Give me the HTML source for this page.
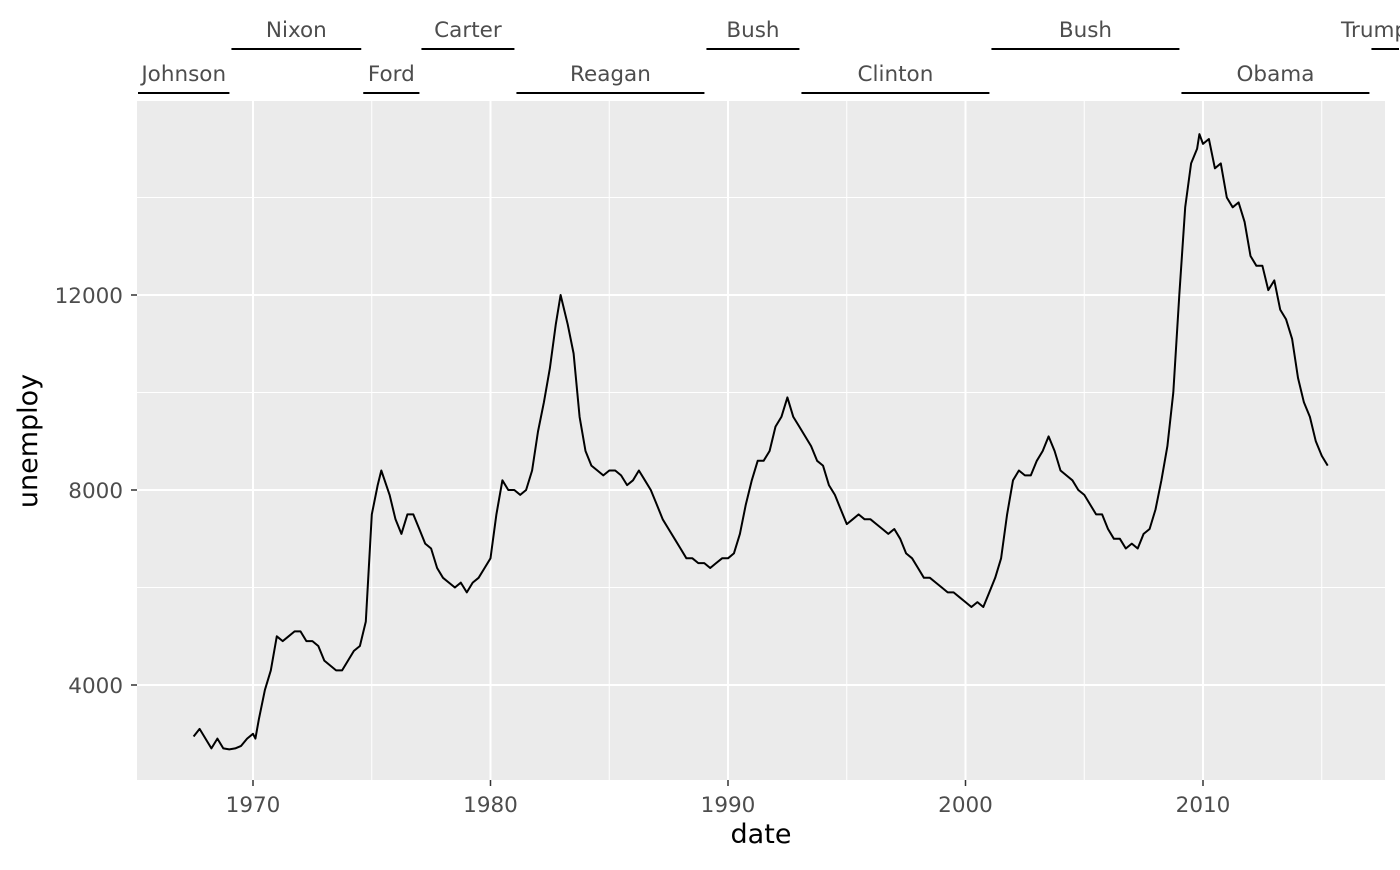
<!DOCTYPE html>
<html><head><meta charset="utf-8"><style>
body{margin:0;background:#fff;}
svg text{font-family:"DejaVu Sans","Liberation Sans",sans-serif;}
</style></head><body>
<svg id="chart" width="1400" height="865" xmlns="http://www.w3.org/2000/svg">
<rect x="137" y="101" width="1248" height="679" fill="#ebebeb"/>
<g id="grid"></g><g id="series"></g><g id="axes"></g><g id="pres"></g>
<text x="761" y="843" font-size="27" text-anchor="middle" fill="#000">date</text>
<text x="0" y="0" font-size="27" text-anchor="middle" fill="#000" transform="translate(37,441) rotate(-90)">unemploy</text>
</svg>
<script>
const dates=[1967.5,1967.75,1968.0,1968.25,1968.5,1968.75,1969.0,1969.25,1969.5,1969.75,1970.0,1970.1,1970.25,1970.5,1970.75,1971.0,1971.25,1971.5,1971.75,1972.0,1972.25,1972.5,1972.75,1973.0,1973.25,1973.5,1973.75,1974.0,1974.25,1974.5,1974.75,1975.0,1975.25,1975.4,1975.75,1976.0,1976.25,1976.5,1976.75,1977.0,1977.25,1977.5,1977.75,1978.0,1978.25,1978.5,1978.75,1979.0,1979.25,1979.5,1979.75,1980.0,1980.25,1980.5,1980.75,1981.0,1981.25,1981.5,1981.75,1982.0,1982.25,1982.5,1982.75,1982.95,1983.25,1983.5,1983.75,1984.0,1984.25,1984.5,1984.75,1985.0,1985.25,1985.5,1985.75,1986.0,1986.25,1986.5,1986.75,1987.0,1987.25,1987.5,1987.75,1988.0,1988.25,1988.5,1988.75,1989.0,1989.25,1989.5,1989.75,1990.0,1990.25,1990.5,1990.75,1991.0,1991.25,1991.5,1991.75,1992.0,1992.25,1992.5,1992.75,1993.0,1993.25,1993.5,1993.75,1994.0,1994.25,1994.5,1994.75,1995.0,1995.25,1995.5,1995.75,1996.0,1996.25,1996.5,1996.75,1997.0,1997.25,1997.5,1997.75,1998.0,1998.25,1998.5,1998.75,1999.0,1999.25,1999.5,1999.75,2000.0,2000.25,2000.5,2000.75,2001.0,2001.25,2001.5,2001.75,2002.0,2002.25,2002.5,2002.75,2003.0,2003.25,2003.5,2003.75,2004.0,2004.25,2004.5,2004.75,2005.0,2005.25,2005.5,2005.75,2006.0,2006.25,2006.5,2006.75,2007.0,2007.25,2007.5,2007.75,2008.0,2008.25,2008.5,2008.75,2009.0,2009.25,2009.5,2009.75,2009.85,2010.0,2010.25,2010.5,2010.75,2011.0,2011.25,2011.5,2011.75,2012.0,2012.25,2012.5,2012.75,2013.0,2013.25,2013.5,2013.75,2014.0,2014.25,2014.5,2014.75,2015.0,2015.25];
const unemploy=[2944,3100,2900,2700,2900,2700,2680,2700,2750,2900,3000,2900,3300,3900,4300,5000,4900,5000,5100,5100,4900,4900,4800,4500,4400,4300,4300,4500,4700,4800,5300,7500,8100,8400,7900,7400,7100,7500,7500,7200,6900,6800,6400,6200,6100,6000,6100,5900,6100,6200,6400,6600,7500,8200,8000,8000,7900,8000,8400,9200,9800,10500,11400,12000,11400,10800,9500,8800,8500,8400,8300,8400,8400,8300,8100,8200,8400,8200,8000,7700,7400,7200,7000,6800,6600,6600,6500,6500,6400,6500,6600,6600,6700,7100,7700,8200,8600,8600,8800,9300,9500,9900,9500,9300,9100,8900,8600,8500,8100,7900,7600,7300,7400,7500,7400,7400,7300,7200,7100,7200,7000,6700,6600,6400,6200,6200,6100,6000,5900,5900,5800,5700,5600,5700,5600,5900,6200,6600,7500,8200,8400,8300,8300,8600,8800,9100,8800,8400,8300,8200,8000,7900,7700,7500,7500,7200,7000,7000,6800,6900,6800,7100,7200,7600,8200,8900,10000,12000,13800,14700,15000,15300,15100,15200,14600,14700,14000,13800,13900,13500,12800,12600,12600,12100,12300,11700,11500,11100,10300,9800,9500,9000,8700,8500];
const xTicks=[1970,1980,1990,2000,2010];
const yTicks=[4000,8000,12000];
const presNames=["Johnson","Nixon","Ford","Carter","Reagan","Bush","Clinton","Bush","Obama","Trump"];
const presStart=[1963.9,1969.05,1974.6,1977.05,1981.05,1989.05,1993.05,2001.05,2009.05,2017.05];
const presEnd=[1969.05,1974.6,1977.05,1981.05,1989.05,1993.05,2001.05,2009.05,2017.05,2021.05];
const NS="http://www.w3.org/2000/svg";
const X0=137,X1=1385,Y0=101,Y1=780;
const xs=y=>253+(y-1970)*23.75;
const ys=v=>490-(v-8000)*0.04875;
function mk(t,a,p){const e=document.createElementNS(NS,t);for(const k in a)e.setAttribute(k,a[k]);p.appendChild(e);return e;}
const grid=document.getElementById('grid'),axes=document.getElementById('axes');
for(let i=0;i<xTicks.length;i++){const x=xs(xTicks[i]-5);
 const m=mk('line',{x1:x,x2:x,y1:Y0,y2:Y1,stroke:'#fff','stroke-width':1},grid);
 }
{const x=xs(xTicks[xTicks.length-1]+5);const m=mk('line',{x1:x,x2:x,y1:Y0,y2:Y1,stroke:'#fff','stroke-width':1},grid);
 }
for(let i=0;i<yTicks.length;i++){[yTicks[i]-2000,yTicks[i]+2000].forEach(v=>{const y=ys(v);
 const m=mk('line',{x1:X0,x2:X1,y1:y,y2:y,stroke:'#fff','stroke-width':1},grid);
 });}
xTicks.forEach(t=>{const x=xs(t);
 const g=mk('line',{x1:x,x2:x,y1:Y0,y2:Y1,stroke:'#fff','stroke-width':2},grid);
 
 const k=mk('line',{x1:x,x2:x,y1:Y1,y2:Y1+6,stroke:'#333','stroke-width':1.5},axes);
 
 const l=mk('text',{x:x,y:Y1+32,'font-size':21.5,'text-anchor':'middle',fill:'#4d4d4d'},axes);l.textContent=t;
 });
yTicks.forEach(t=>{const y=ys(t);
 const g=mk('line',{x1:X0,x2:X1,y1:y,y2:y,stroke:'#fff','stroke-width':2},grid);
 
 const k=mk('line',{x1:X0-6,x2:X0,y1:y,y2:y,stroke:'#333','stroke-width':1.5},axes);
 
 const l=mk('text',{x:X0-14,y:y+8,'font-size':21.5,'text-anchor':'end',fill:'#4d4d4d'},axes);l.textContent=t;
 });
const pts=dates.map((d,i)=>xs(d).toFixed(1)+','+ys(unemploy[i]).toFixed(1)).join(' ');
const line=mk('polyline',{points:pts,fill:'none',stroke:'#000','stroke-width':2,'stroke-linejoin':'round'},document.getElementById('series'));


const pres=document.getElementById('pres');
presNames.forEach((n,i)=>{const a=Math.max(X0,xs(presStart[i])),b=Math.min(1400,xs(presEnd[i]));
 const yy=i%2===0?93:49;
 const s=mk('line',{x1:a+1,x2:b-1,y1:yy,y2:yy,stroke:'#000','stroke-width':2},pres);
 
 const last=i===presNames.length-1;
 const t=mk('text',{x:last?1341:(a+b)/2,y:yy-12,'font-size':21.5,'text-anchor':last?'start':'middle',fill:'#4d4d4d'},pres);
 t.textContent=n;
 });
</script>
</body></html>
